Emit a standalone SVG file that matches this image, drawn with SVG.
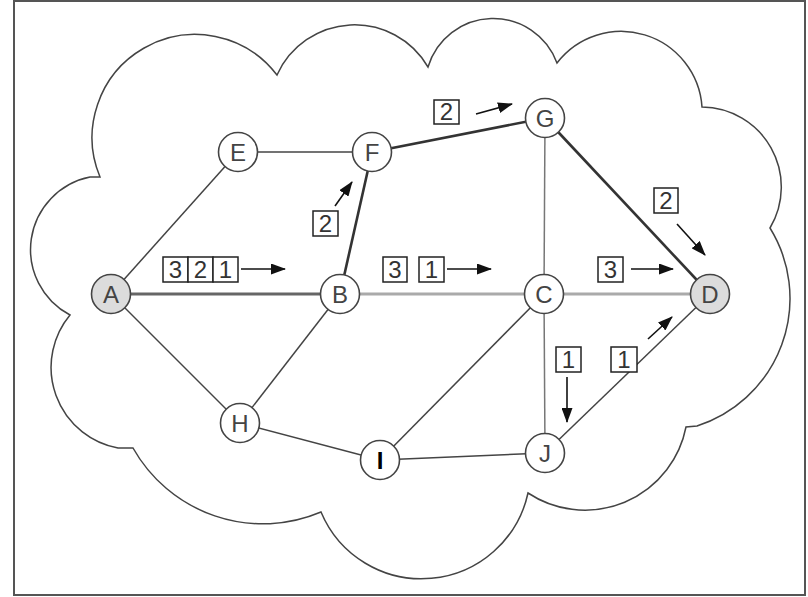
<svg xmlns="http://www.w3.org/2000/svg" width="808" height="597" viewBox="0 0 808 597">
<defs>
<style>
.frame{fill:#fff;stroke:#555;stroke-width:2}
.cloud{fill:none;stroke:#444;stroke-width:1.5}
.node circle{fill:#fff;stroke:#444;stroke-width:1.6}
.node.src circle{fill:#dcdcdc}
.node text{font-family:"Liberation Sans",Arial,sans-serif;font-size:24px;fill:#444;text-anchor:middle}
.e{stroke:#444;stroke-width:1.5;fill:none}
.eg{stroke:#777;stroke-width:1.5;fill:none}
.eh{stroke:#333;stroke-width:2.6;fill:none}
.ehg{stroke:#666;stroke-width:3.2;fill:none}
.el{stroke:#aaa;stroke-width:3;fill:none}
.box rect{fill:#fff;stroke:#222;stroke-width:1.5}
.box text{font-family:"Liberation Sans",Arial,sans-serif;font-size:24px;fill:#333;text-anchor:middle}
.arr{stroke:#111;stroke-width:1.6;fill:none;marker-end:url(#ah)}
</style>
<marker id="ah" markerWidth="15" markerHeight="11" refX="14" refY="5.5" orient="auto" markerUnits="userSpaceOnUse">
<path d="M0,0 L15,5.5 L0,11 Z" fill="#111"/>
</marker>
</defs>
<rect class="frame" x="14" y="1" width="791" height="594"/>
<path class="cloud" d="M100,177 A103,103 0 0 1 277,75 A85,85 0 0 1 428,67 A68,68 0 0 1 557,63 A81,81 0 0 1 702,107 A80,80 0 0 1 770,228 A134,134 0 0 1 697,426 L686,427 A103,103 0 0 1 528,493 A109,109 0 0 1 321,512 A149,149 0 0 1 133,448 L118,448 A82,82 0 0 1 70,315 A74,74 0 0 1 90,177 Z"/>
<g id="connectors">
<line class="ehg" x1="111" y1="294" x2="340" y2="294"/>
<line class="el" x1="340" y1="294" x2="544" y2="294"/>
<line class="el" x1="544" y1="294" x2="710" y2="294"/>
<line class="e" x1="111" y1="294" x2="238" y2="152"/>
<line class="e" x1="111" y1="294" x2="240" y2="423"/>
<line class="e" x1="238" y1="152" x2="372" y2="152"/>
<line class="eh" x1="340" y1="294" x2="372" y2="152"/>
<line class="eh" x1="372" y1="152" x2="545" y2="118"/>
<line class="eh" x1="545" y1="118" x2="710" y2="294"/>
<line class="eg" x1="545" y1="118" x2="544" y2="294"/>
<line class="e" x1="340" y1="294" x2="240" y2="423"/>
<line class="e" x1="240" y1="423" x2="380" y2="460"/>
<line class="e" x1="380" y1="460" x2="544" y2="294"/>
<line class="e" x1="380" y1="460" x2="545" y2="453"/>
<line class="eg" x1="544" y1="294" x2="545" y2="453"/>
<line class="e" x1="545" y1="453" x2="710" y2="294"/>
</g>
<g id="node-A" class="node src"><circle cx="111" cy="294" r="19.5"/><text x="111" y="303">A</text></g>
<g id="node-B" class="node"><circle cx="340" cy="294" r="19.5"/><text x="340" y="303">B</text></g>
<g id="node-C" class="node"><circle cx="544" cy="294" r="19.5"/><text x="544" y="303">C</text></g>
<g id="node-D" class="node src"><circle cx="710" cy="294" r="19.5"/><text x="710" y="303">D</text></g>
<g id="node-E" class="node"><circle cx="238" cy="152" r="19.5"/><text x="238" y="161">E</text></g>
<g id="node-F" class="node"><circle cx="372" cy="152" r="19.5"/><text x="372" y="161">F</text></g>
<g id="node-G" class="node"><circle cx="545" cy="118" r="19.5"/><text x="545" y="127">G</text></g>
<g id="node-H" class="node"><circle cx="240" cy="423" r="19.5"/><text x="240" y="432">H</text></g>
<g id="node-I" class="node"><circle cx="380" cy="460" r="19.5"/><text x="380" y="469" style="font-weight:bold;fill:#000">I</text></g>
<g id="node-J" class="node"><circle cx="545" cy="453" r="19.5"/><text x="545" y="462">J</text></g>
<g id="labels">
<g class="box"><rect x="163" y="257" width="25" height="25"/><text x="175.5" y="278">3</text><rect x="188" y="257" width="25" height="25"/><text x="200.5" y="278">2</text><rect x="213" y="257" width="25" height="25"/><text x="225.5" y="278">1</text></g>
<line class="arr" x1="241" y1="269" x2="285" y2="269"/>
<g class="box"><rect x="383" y="257" width="24" height="25"/><text x="395" y="278">3</text><rect x="419" y="257" width="25" height="25"/><text x="431.5" y="278">1</text></g>
<line class="arr" x1="447" y1="269" x2="491" y2="269"/>
<g class="box"><rect x="598" y="257" width="25" height="25"/><text x="610.5" y="278">3</text></g>
<line class="arr" x1="631" y1="269" x2="673" y2="269"/>
<g class="box"><rect x="434" y="100" width="25" height="24"/><text x="446.5" y="120">2</text></g>
<line class="arr" x1="476" y1="114" x2="512" y2="104"/>
<g class="box"><rect x="313" y="211" width="25" height="25"/><text x="325.5" y="232">2</text></g>
<line class="arr" x1="335" y1="206" x2="352" y2="182"/>
<g class="box"><rect x="654" y="188" width="24" height="25"/><text x="666" y="209">2</text></g>
<line class="arr" x1="677" y1="224" x2="705" y2="255"/>
<g class="box"><rect x="556" y="347" width="25" height="25"/><text x="568.5" y="368">1</text></g>
<line class="arr" x1="567" y1="377" x2="567" y2="422"/>
<g class="box"><rect x="611" y="347" width="26" height="25"/><text x="624" y="368">1</text></g>
<line class="arr" x1="648" y1="339" x2="672" y2="317"/>
</g>
</svg>
